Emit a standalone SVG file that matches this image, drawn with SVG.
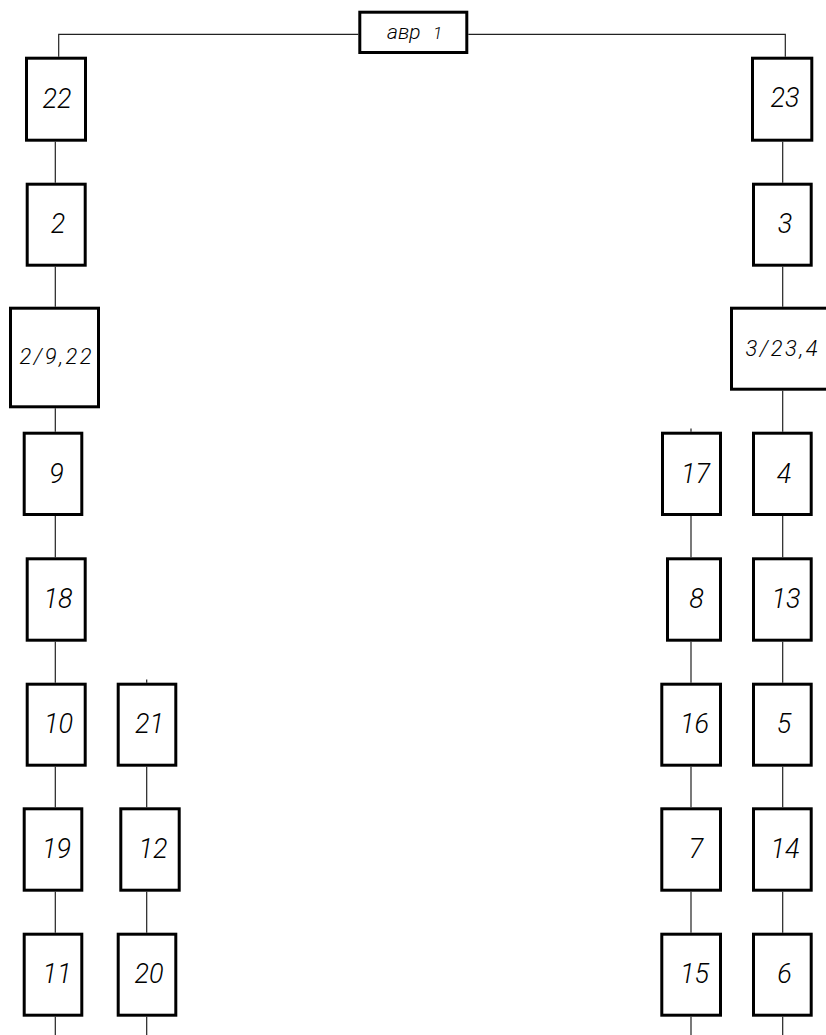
<svg xmlns="http://www.w3.org/2000/svg" width="826" height="1035" viewBox="0 0 826 1035">
  <style>
    .box { fill: #ffffff; stroke: #000000; stroke-width: 3; }
    .lbl { font-family: Roboto, "Liberation Sans", "DejaVu Sans", sans-serif; font-weight: 300; font-style: italic; font-size: 27px; fill: #000000; text-anchor: middle; }
    .lbl-s { font-size: 22px; }
    .lbl-t { font-size: 17px; text-anchor: start; }
    .lbl-lc { font-size: 21px; }
    .wire { fill: none; stroke: #222222; stroke-width: 1.2; }
  </style>
  <rect width="826" height="1035" fill="#ffffff"/>

  <!-- connectors -->
  <g id="connectors">
    <polyline class="wire" points="58.7,56.7 58.7,34.3 358.3,34.3"/>
    <polyline class="wire" points="468.3,34.3 785.3,34.3 785.3,56.7"/>
    <!-- left chain -->
    <path class="wire" d="M55.3,141.7V182.7 M55.3,266.7V306.7 M55.3,408.3V431.7 M55.3,516V557.3 M55.3,641.7V682.7 M55.3,766.7V807.3 M55.3,891.7V932.7 M55.3,1016.7V1035"/>
    <!-- second left chain -->
    <path class="wire" d="M146.7,679.5V682.7 M146.7,766.7V807.3 M146.7,891.7V932.7 M146.7,1016.7V1035"/>
    <!-- second right chain -->
    <path class="wire" d="M691,428.5V431.7 M691,516V557.3 M691,641.7V682.7 M691,766.7V807.3 M691,891.7V932.7 M691,1016.7V1035"/>
    <!-- right chain -->
    <path class="wire" d="M782.7,141.7V182.7 M782.7,266.7V306.7 M782.7,390.7V431.7 M782.7,516V557.3 M782.7,641.7V682.7 M782.7,766.7V807.3 M782.7,891.7V932.7 M782.7,1016.7V1035"/>
  </g>

  <!-- top node -->
  <g id="n-avr1">
    <rect class="box" x="359.8" y="12.2" width="107" height="40.3"/>
    <text class="lbl lbl-t" y="38.5"><tspan class="lbl-lc" x="387">авр</tspan><tspan x="433">1</tspan></text>
  </g>

  <!-- left column -->
  <g id="n-22">
    <rect class="box" x="26.5" y="58.2" width="59" height="82"/>
    <text class="lbl" x="57" y="108.3">22</text>
  </g>
  <g id="n-2">
    <rect class="box" x="27.2" y="184.2" width="58" height="81"/>
    <text class="lbl" x="58" y="233.3">2</text>
  </g>
  <g id="n-2-9-22">
    <rect class="box" x="10.5" y="308.2" width="88" height="98.6"/>
    <text class="lbl lbl-s" x="55.5" y="363.5" textLength="72" lengthAdjust="spacing">2/9,22</text>
  </g>
  <g id="n-9">
    <rect class="box" x="24.2" y="433.2" width="57.6" height="81.3"/>
    <text class="lbl" x="56.5" y="482.7">9</text>
  </g>
  <g id="n-18">
    <rect class="box" x="27.2" y="558.8" width="58" height="81.4"/>
    <text class="lbl" x="58" y="607.7">18</text>
  </g>
  <g id="n-10">
    <rect class="box" x="27.2" y="684.2" width="58" height="81"/>
    <text class="lbl" x="58.5" y="733.3">10</text>
  </g>
  <g id="n-19">
    <rect class="box" x="24.2" y="808.8" width="57.6" height="81.4"/>
    <text class="lbl" x="56.5" y="858.3">19</text>
  </g>
  <g id="n-11">
    <rect class="box" x="24.2" y="934.2" width="57.6" height="81"/>
    <text class="lbl" x="57" y="983.3">11</text>
  </g>

  <!-- second left column -->
  <g id="n-21">
    <rect class="box" x="118.2" y="684.2" width="57.6" height="81"/>
    <text class="lbl" x="149.5" y="733.3">21</text>
  </g>
  <g id="n-12">
    <rect class="box" x="120.8" y="808.8" width="58.4" height="81.4"/>
    <text class="lbl" x="153" y="858.3">12</text>
  </g>
  <g id="n-20">
    <rect class="box" x="118.2" y="934.2" width="57.6" height="81"/>
    <text class="lbl" x="149" y="983.3">20</text>
  </g>

  <!-- second right column -->
  <g id="n-17">
    <rect class="box" x="662.5" y="433.2" width="58" height="81.3"/>
    <text class="lbl" x="695.5" y="482.7">17</text>
  </g>
  <g id="n-8">
    <rect class="box" x="667.5" y="558.8" width="53" height="81.4"/>
    <text class="lbl" x="696.5" y="607.7">8</text>
  </g>
  <g id="n-16">
    <rect class="box" x="661.8" y="684.2" width="58.7" height="81"/>
    <text class="lbl" x="694.5" y="733.3">16</text>
  </g>
  <g id="n-7">
    <rect class="box" x="661.8" y="808.8" width="58.7" height="81.4"/>
    <text class="lbl" x="696" y="858">7</text>
  </g>
  <g id="n-15">
    <rect class="box" x="661.8" y="934.2" width="58.7" height="81"/>
    <text class="lbl" x="694.5" y="983">15</text>
  </g>

  <!-- right column -->
  <g id="n-23">
    <rect class="box" x="752.5" y="58.2" width="59.3" height="82"/>
    <text class="lbl" x="785" y="107.3">23</text>
  </g>
  <g id="n-3">
    <rect class="box" x="753.5" y="184.2" width="57.7" height="81"/>
    <text class="lbl" x="785" y="232.7">3</text>
  </g>
  <g id="n-3-23-4">
    <rect class="box" x="731.5" y="308.2" width="110" height="81"/>
    <text class="lbl lbl-s" x="781.5" y="356" textLength="72" lengthAdjust="spacing">3/23,4</text>
  </g>
  <g id="n-4">
    <rect class="box" x="753.5" y="433.2" width="57.7" height="81.3"/>
    <text class="lbl" x="784" y="482.7">4</text>
  </g>
  <g id="n-13">
    <rect class="box" x="753.5" y="558.8" width="57.7" height="81.4"/>
    <text class="lbl" x="786" y="607.7">13</text>
  </g>
  <g id="n-5">
    <rect class="box" x="753.5" y="684.2" width="57.7" height="81"/>
    <text class="lbl" x="784" y="733.3">5</text>
  </g>
  <g id="n-14">
    <rect class="box" x="753.5" y="808.8" width="57.7" height="81.4"/>
    <text class="lbl" x="785" y="858.3">14</text>
  </g>
  <g id="n-6">
    <rect class="box" x="753.5" y="934.2" width="57.7" height="81"/>
    <text class="lbl" x="784.5" y="983.3">6</text>
  </g>
</svg>
